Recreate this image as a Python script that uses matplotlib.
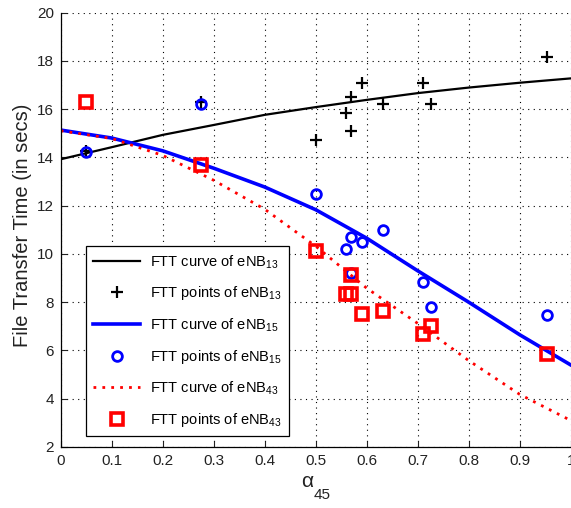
import matplotlib
matplotlib.use("Agg")
import matplotlib.pyplot as plt

plt.rcParams['font.family'] = ['Liberation Sans', 'DejaVu Sans']
plt.rcParams['mathtext.fontset'] = 'custom'
plt.rcParams['mathtext.rm'] = 'Liberation Sans'
plt.rcParams['mathtext.it'] = 'Liberation Sans'
plt.rcParams['mathtext.default'] = 'regular'

# curves
curve_x = [0.0, 0.1, 0.2, 0.3, 0.4, 0.5, 0.6, 0.7, 0.8, 0.9, 1.0]
curve_13 = [13.92, 14.42, 14.93, 15.34, 15.76, 16.08, 16.38, 16.66, 16.89, 17.09, 17.27]
curve_15 = [15.13, 14.80, 14.27, 13.55, 12.77, 11.83, 10.65, 9.30, 8.00, 6.65, 5.40]
curve_43 = [15.10, 14.78, 14.08, 13.05, 11.85, 10.32, 8.58, 7.12, 5.58, 4.18, 3.10]

# measured points
pts_x = [0.05, 0.275, 0.5, 0.559, 0.569, 0.569, 0.59, 0.631, 0.71, 0.726, 0.953]
pts_13 = [14.25, 16.30, 14.71, 15.83, 16.51, 15.09, 17.09, 16.20, 17.09, 16.20, 18.14]
pts_15 = [14.24, 16.20, 12.48, 10.19, 10.69, 9.20, 10.51, 10.99, 8.85, 7.78, 7.45]
pts_43 = [16.31, 13.69, 10.10, 8.34, 8.34, 9.13, 7.50, 7.65, 6.69, 7.03, 5.86]

labels = ['FTT curve of eNB$_{13}$', 'FTT points of eNB$_{13}$',
          'FTT curve of eNB$_{15}$', 'FTT points of eNB$_{15}$',
          'FTT curve of eNB$_{43}$', 'FTT points of eNB$_{43}$']

xticks = [0, 0.1, 0.2, 0.3, 0.4, 0.5, 0.6, 0.7, 0.8, 0.9, 1]
xticklabels = ['0', '0.1', '0.2', '0.3', '0.4', '0.5', '0.6', '0.7', '0.8', '0.9', '1']
yticks = [2, 4, 6, 8, 10, 12, 14, 16, 18, 20]

fig = plt.figure(figsize=(5.71, 5.08), dpi=100)
ax = fig.add_axes([60.7/571, (508-447)/508, 510/571, 434.5/508])

ax.plot(curve_x, curve_13, color='black', lw=1.6, label=labels[0])
ax.plot(pts_x, pts_13, linestyle='none', marker='+', color='black', ms=9, mew=1.6, label=labels[1])
ax.plot(curve_x, curve_15, color='#0000ff', lw=2.6, label=labels[2])
ax.plot(pts_x, pts_15, linestyle='none', marker='o', mfc='none', mec='#0000ff', ms=7, mew=2, label=labels[3])
ax.plot(curve_x, curve_43, color='#ff0000', lw=2, linestyle=(0, (1, 2.2)), label=labels[4])
ax.plot(pts_x, pts_43, linestyle='none', marker='s', mfc='none', mec='#ff0000', ms=9, mew=2.6, label=labels[5])

ax.set_xlim(0, 1)
ax.set_ylim(2, 20)
ax.set_xticks(xticks)
ax.set_xticklabels(xticklabels)
ax.set_yticks(yticks)
ax.tick_params(direction='in', length=4, width=0.8, labelsize=11, colors='#222222', pad=5)
ax.grid(True, color='black', linestyle=(0, (1, 4)), lw=0.8)
ax.spines['top'].set_visible(False)
ax.spines['right'].set_visible(False)
for s in ['left', 'bottom']:
    ax.spines[s].set_linewidth(0.9)

ax.set_ylabel('File Transfer Time (in secs)', fontsize=14.5, color='#222222')
ax.yaxis.set_label_coords(-0.057, 0.51)
ax.set_xlabel('α', fontsize=15, color='#222222')
ax.xaxis.set_label_coords(0.483, -0.058)
ax.annotate('45', xy=(1.0, 0.15), xycoords=ax.xaxis.label, xytext=(0.5, 0),
            textcoords='offset points', ha='left', va='top', fontsize=11, color='#222222')

leg = ax.legend(loc='lower left', bbox_to_anchor=(0.0496, 0.0253), borderaxespad=0,
                fontsize=10.5, fancybox=False, framealpha=1, edgecolor='black',
                labelspacing=0.95, handlelength=3.2, handletextpad=0.7, borderpad=0.5)
leg.get_frame().set_linewidth(0.9)

fig.savefig('out.png', dpi=100)
